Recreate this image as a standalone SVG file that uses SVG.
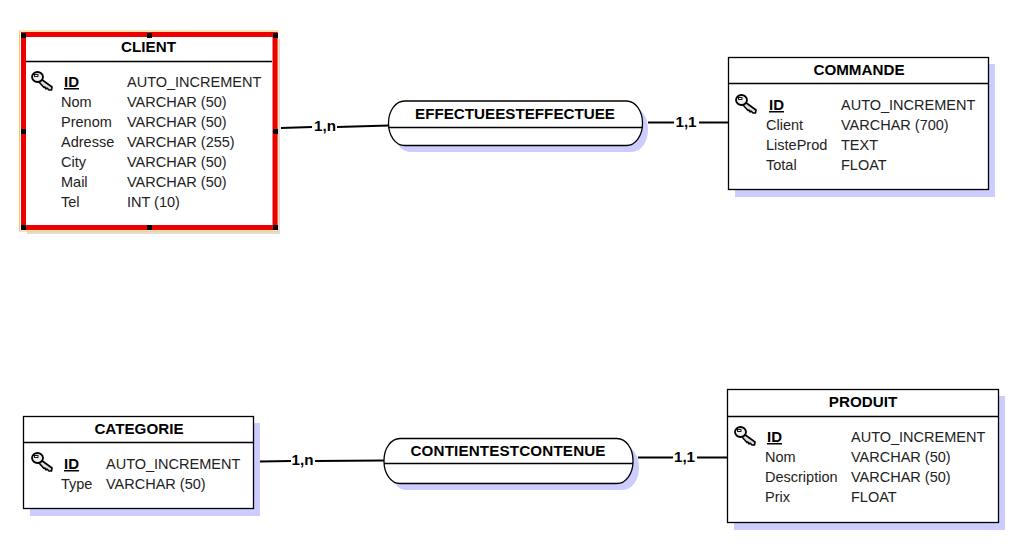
<svg xmlns="http://www.w3.org/2000/svg" width="1036" height="556" viewBox="0 0 1036 556">
<style>
text{font-family:"Liberation Sans",Arial,sans-serif;font-size:14.5px;fill:#222}
.t{font-weight:bold;font-size:15.2px;text-anchor:middle;fill:#000}
.k{font-weight:bold;text-decoration:underline;fill:#000;font-size:15px}
.c{font-weight:bold;font-size:15.2px;fill:#000;text-anchor:middle}
.box{fill:#fff;stroke:#000;stroke-width:1.3}
.sh{fill:#ccccff;stroke:none}
.ln{stroke:#000;stroke-width:1.3;fill:none}
.w{stroke:#000;stroke-width:2;fill:none}
.h{fill:#000}
</style>
<defs>
<g id="key">
<path d="M9,7 L20,15 L19.500,18 L17,18 L15,16 L14,17 L13,15 L12,15.500 L7,10 Z" fill="#ddd" stroke="#000" stroke-width="1.600" stroke-linejoin="round"/>
<ellipse cx="5.500" cy="5" rx="5.500" ry="5" fill="#eee" stroke="#000" stroke-width="1.800"/>
<rect x="2.500" y="2.500" width="3.500" height="2" fill="#fff" stroke="#000" stroke-width="0.900"/>
</g>
</defs>
<rect width="1036" height="556" fill="#fff"/>
<g id="connectors">
<path class="w" d="M281,128 L312,127"/><path class="w" d="M337,127 L389,125.500"/>
<path class="w" d="M648,122.500 L674,122.500"/><path class="w" d="M699,122.500 L728,122.500"/>
<path class="w" d="M260,461.500 L291,461"/><path class="w" d="M315,461 L384,460.500"/>
<path class="w" d="M638,457.500 L673,457.500"/><path class="w" d="M697,457.500 L727,457.500"/>
<text class="c" x="325" y="131">1,n</text>
<text class="c" x="686" y="127">1,1</text>
<text class="c" x="302.500" y="465">1,n</text>
<text class="c" x="684.500" y="462">1,1</text>
</g>
<g id="client">
<rect x="27" y="39" width="253" height="195" fill="#e6dcd6"/>
<rect x="19.500" y="31" width="258" height="200" fill="#fff" stroke="#f0c860" stroke-width="1"/>
<rect x="23.500" y="34.500" width="251.500" height="193" fill="#fff" stroke="#ee0000" stroke-width="5"/>
<path class="ln" d="M26,61.500 H272"/>
<g class="h"><rect x="21" y="33" width="5" height="5"/><rect x="147" y="33" width="5" height="5"/><rect x="273" y="33" width="5" height="5"/><rect x="21" y="129" width="5" height="5"/><rect x="273" y="129" width="5" height="5"/><rect x="21" y="225" width="5" height="5"/><rect x="147" y="225" width="5" height="5"/><rect x="273" y="225" width="5" height="5"/></g>
<text class="t" x="148.500" y="52">CLIENT</text>
<use href="#key" x="32" y="72"/>
<text class="k" x="64" y="87">ID</text><text x="127" y="87">AUTO_INCREMENT</text>
<text x="61" y="107">Nom</text><text x="127" y="107">VARCHAR (50)</text>
<text x="61" y="127">Prenom</text><text x="127" y="127">VARCHAR (50)</text>
<text x="61" y="147">Adresse</text><text x="127" y="147">VARCHAR (255)</text>
<text x="61" y="167">City</text><text x="127" y="167">VARCHAR (50)</text>
<text x="61" y="187">Mail</text><text x="127" y="187">VARCHAR (50)</text>
<text x="61" y="207">Tel</text><text x="127" y="207">INT (10)</text>
</g>
<g id="commande">
<rect class="sh" x="735" y="64" width="260" height="133"/>
<rect class="box" x="728.500" y="57.500" width="260" height="132"/>
<path class="ln" d="M728.500,83.500 H988.500"/>
<text class="t" x="859" y="75">COMMANDE</text>
<use href="#key" x="736" y="95"/>
<text class="k" x="769" y="110">ID</text><text x="841" y="110">AUTO_INCREMENT</text>
<text x="766" y="130">Client</text><text x="841" y="130">VARCHAR (700)</text>
<text x="766" y="150">ListeProd</text><text x="841" y="150">TEXT</text>
<text x="766" y="170">Total</text><text x="841" y="170">FLOAT</text>
</g>
<g id="categorie">
<rect class="sh" x="30" y="423" width="230" height="93"/>
<rect class="box" x="23.500" y="416.500" width="230" height="92"/>
<path class="ln" d="M23.500,442.500 H253.500"/>
<text class="t" x="139" y="434">CATEGORIE</text>
<use href="#key" x="32" y="453"/>
<text class="k" x="64" y="469">ID</text><text x="106" y="469">AUTO_INCREMENT</text>
<text x="61" y="489">Type</text><text x="106" y="489">VARCHAR (50)</text>
</g>
<g id="produit">
<rect class="sh" x="734" y="396" width="271" height="134"/>
<rect class="box" x="727.500" y="389.500" width="271" height="133"/>
<path class="ln" d="M727.500,416.500 H998.500"/>
<text class="t" x="863" y="407">PRODUIT</text>
<use href="#key" x="735" y="427"/>
<text class="k" x="767" y="442">ID</text><text x="851" y="442">AUTO_INCREMENT</text>
<text x="765" y="462">Nom</text><text x="851" y="462">VARCHAR (50)</text>
<text x="765" y="482">Description</text><text x="851" y="482">VARCHAR (50)</text>
<text x="765" y="502">Prix</text><text x="851" y="502">FLOAT</text>
</g>
<g id="effectueesteffectuee">
<rect class="sh" x="394" y="107" width="254" height="45" rx="16" ry="22"/>
<rect class="box" x="388.500" y="101" width="254" height="44.500" rx="16" ry="22"/>
<path class="ln" d="M388.500,127.500 H642.500"/>
<text class="t" x="515" y="119">EFFECTUEESTEFFECTUEE</text>
</g>
<g id="contientestcontenue">
<rect class="sh" x="390" y="445" width="249" height="45" rx="16" ry="22"/>
<rect class="box" x="384" y="438.500" width="249" height="45" rx="16" ry="22"/>
<path class="ln" d="M384,463.500 H633"/>
<text class="t" x="508" y="456" textLength="195">CONTIENTESTCONTENUE</text>
</g>
</svg>
